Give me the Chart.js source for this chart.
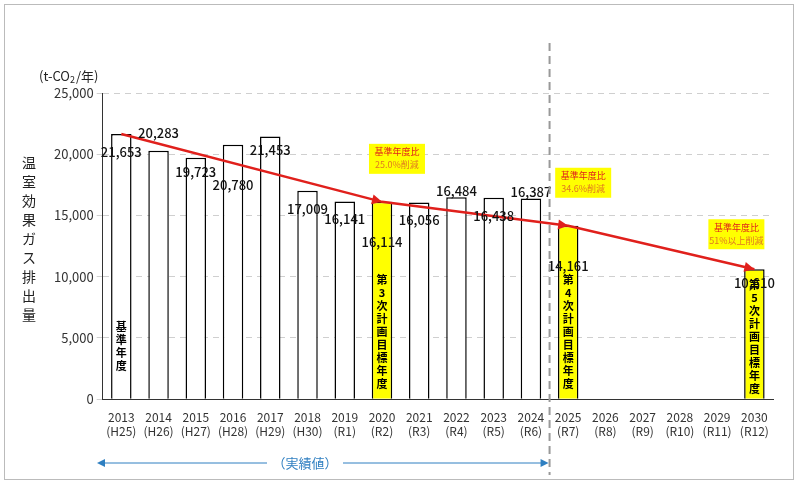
<!DOCTYPE html>
<html><head><meta charset="utf-8">
<script src="https://cdn.jsdelivr.net/npm/chart.js@4"></script>
<style>
body{margin:0;background:#fff;font-family:"Noto Sans CJK JP",sans-serif}
#wrap{position:absolute;left:4px;top:4px;width:788px;height:474px;border:1px solid #bbb}
</style></head><body>
<div id="wrap"><canvas id="c" width="788" height="474"></canvas></div>
<script>
// データ
const years = ['2013','2014','2015','2016','2017','2018','2019','2020','2021','2022','2023','2024','2025','2026','2027','2028','2029','2030'];
const eras = ['(H25)','(H26)','(H27)','(H28)','(H29)','(H30)','(R1)','(R2)','(R3)','(R4)','(R5)','(R6)','(R7)','(R8)','(R9)','(R10)','(R11)','(R12)'];
const emissions = [21653,20283,19723,20780,21453,17009,16141,16114,16056,16484,16438,16387,14161,null,null,null,null,10610];
const targetLine = [21653,null,null,null,null,null,null,16114,null,null,null,null,14161,null,null,null,null,10610];
const targetYears = [7,12,17];
const targetNotes = {7:['基準年度比','25.0%削減'],12:['基準年度比','34.6%削減'],17:['基準年度比','51%以上削減']};
const barNotes = {0:'基準年度',7:'第3次計画目標年度',12:'第4次計画目標年度',17:'第5次計画目標年度'};
const labelShift = [18,-18,14,40,14,18,18,40,18,-6,18,-6,40,0,0,0,0,14];

const font = '"Noto Sans CJK JP", sans-serif';

const extras = {
    id: 'extras',
    afterDatasetsDraw(chart) {
        const ctx = chart.ctx;
        const x = chart.scales.x, y = chart.scales.y;
        const bars = chart.getDatasetMeta(1).data;
        ctx.save();
        // 縦書きの注記
        Object.keys(barNotes).forEach(i => {
            const b = bars[i];
            const txt = barNotes[i];
            ctx.font = 'bold 11px ' + font;
            ctx.fillStyle = '#000';
            ctx.textAlign = 'center';
            ctx.textBaseline = 'middle';
            let yy = i == 0 ? y.bottom - 13 * txt.length - 20 : (i == 17 ? y.bottom - 13 * txt.length + 3 : y.bottom - 13 * txt.length - 2);
            [...txt].forEach((ch, k) => ctx.fillText(ch, b.x, yy + 13 * k));
        });
        // 数値ラベル
        ctx.font = '500 13px ' + font;
        ctx.fillStyle = '#111';
        emissions.forEach((v, i) => {
            if (v == null) return;
            const b = bars[i];
            ctx.fillText(v.toLocaleString('en-US'), b.x, b.y + labelShift[i]);
        });
        // 矢印の先端
        const pts = chart.getDatasetMeta(0).data;
        let prev = pts[0];
        targetYears.forEach(i => {
            const p = pts[i];
            const a = Math.atan2(p.y - prev.y, p.x - prev.x);
            ctx.fillStyle = '#e0201c';
            ctx.beginPath();
            ctx.moveTo(p.x, p.y);
            ctx.lineTo(p.x - 10 * Math.cos(a) + 5 * Math.sin(a), p.y - 10 * Math.sin(a) - 5 * Math.cos(a));
            ctx.lineTo(p.x - 10 * Math.cos(a) - 5 * Math.sin(a), p.y - 10 * Math.sin(a) + 5 * Math.cos(a));
            ctx.fill();
            prev = p;
            // 黄色の吹き出し
            const note = targetNotes[i];
            const bx = i == 17 ? p.x - 18 : p.x + 15, by = p.y - (i == 17 ? 50 : 58);
            ctx.fillStyle = '#ffff00';
            ctx.fillRect(bx - 28, by, 56, 30);
            ctx.font = '9px ' + font;
            ctx.fillStyle = '#e0201c';
            ctx.fillText(note[0], bx, by + 8);
            ctx.fillStyle = '#e07a20';
            ctx.fillText(note[1], bx, by + 21);
        });
        // 区切り線
        const sx = (x.getPixelForValue(11) + x.getPixelForValue(12)) / 2;
        ctx.strokeStyle = '#999';
        ctx.lineWidth = 2;
        ctx.setLineDash([8, 5]);
        ctx.beginPath();
        ctx.moveTo(sx, 38);
        ctx.lineTo(sx, 470);
        ctx.stroke();
        ctx.setLineDash([]);
        // 実績値の矢印
        const ay = 458;
        ctx.strokeStyle = '#2f7fc1';
        ctx.fillStyle = '#2f7fc1';
        ctx.lineWidth = 1;
        ctx.beginPath(); ctx.moveTo(96, ay); ctx.lineTo(sx - 4, ay); ctx.stroke();
        ctx.beginPath(); ctx.moveTo(92, ay); ctx.lineTo(100, ay - 4); ctx.lineTo(100, ay + 4); ctx.fill();
        ctx.beginPath(); ctx.moveTo(sx - 1, ay); ctx.lineTo(sx - 9, ay - 4); ctx.lineTo(sx - 9, ay + 4); ctx.fill();
        ctx.fillStyle = '#fff';
        ctx.fillRect(262, ay - 9, 76, 18);
        ctx.fillStyle = '#2f7fc1';
        ctx.font = '13px ' + font;
        ctx.fillText('（実績値）', 300, ay);
        // 単位と軸タイトル
        ctx.fillStyle = '#222';
        ctx.textAlign = 'left';
        ctx.font = '13px ' + font;
        ctx.fillText('(t-CO', 34, 71);
        let w = ctx.measureText('(t-CO').width;
        ctx.font = '9px ' + font;
        ctx.fillText('2', 34 + w, 75);
        ctx.font = '13px ' + font;
        ctx.fillText('/年)', 34 + w + 6, 71);
        ctx.textAlign = 'center';
        ctx.font = '14px ' + font;
        [...'温室効果ガス排出量'].forEach((ch, k) => ctx.fillText(ch, 24, 158 + 19 * k));
        ctx.restore();
    }
};

new Chart(document.getElementById('c'), {
    data: {
        labels: years.map((yr, i) => [yr, eras[i]]),
        datasets: [{
            type: 'line',
            data: targetLine,
            borderColor: '#e0201c',
            borderWidth: 2.5,
            pointRadius: 0,
            spanGaps: true,
            order: 0
        }, {
            type: 'bar',
            data: emissions,
            backgroundColor: emissions.map((v, i) => targetYears.includes(i) ? '#ffff00' : '#ffffff'),
            borderColor: '#000',
            borderWidth: 1.5,
            borderSkipped: 'bottom',
            barPercentage: 0.55,
            categoryPercentage: 1,
            order: 1
        }]
    },
    options: {
        responsive: false,
        animation: false,
        layout: {padding: {left: 46, right: 20, top: 88, bottom: 37}},
        plugins: {legend: {display: false}, tooltip: {enabled: false}},
        scales: {
            x: {
                grid: {display: false},
                border: {color: '#333'},
                ticks: {color: '#333', font: {size: 12, family: font}, maxRotation: 0, autoSkip: false}
            },
            y: {
                min: 0, max: 25000,
                ticks: {stepSize: 5000, color: '#333', font: {size: 13, family: font}, callback: v => v.toLocaleString('en-US')},
                grid: {color: '#cfcfcf', tickLength: 6},
                border: {color: '#333', dash: [6, 5]}
            }
        }
    },
    plugins: [extras]
});
</script>
</body></html>
